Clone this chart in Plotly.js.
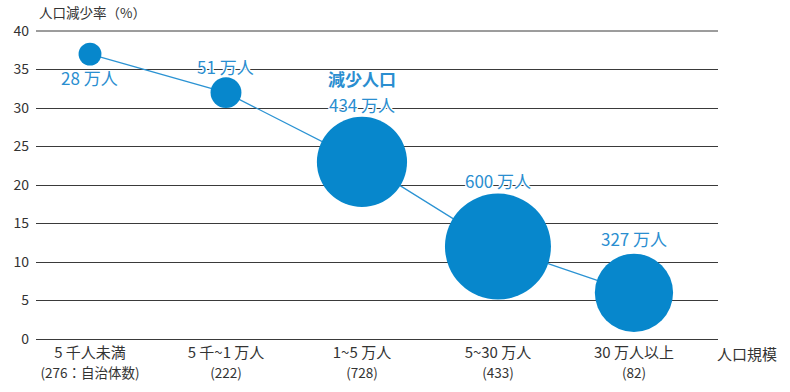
<!DOCTYPE html>
<html><head><meta charset="utf-8">
<script src="https://cdn.plot.ly/plotly-3.0.1.min.js"></script>
<style>html,body{margin:0;padding:0;background:#fff;}#chart{width:790px;height:392px;}</style>
</head><body><div id="chart"></div>
<script>
const categories = ["5 千人未満", "5 千~1 万人", "1~5 万人", "5~30 万人", "30 万人以上"];
const muniCounts = ["276：自治体数", "222", "728", "433", "82"];
const declineRate = [37, 32, 23, 12, 6];          // 人口減少率 (%)
const declinePop = [28, 51, 434, 600, 327];        // 減少人口 (万人)
const yTicks = [0, 5, 10, 15, 20, 25, 30, 35, 40];

const idx = categories.map((_, i) => i);
const tickText = categories.map((c, i) => c + "<br><span style='font-size:13.5px'>(" + muniCounts[i] + ")</span>");

const maxDiam = 106;
const sizeref = 4 * 600 / (2 * maxDiam * maxDiam);
const diam = declinePop.map(v => maxDiam * Math.sqrt(v / 600));

const blue = "#0787cc";
const labelBlue = "#2a8ed0";
const gridColor = "#3a3a3a";
const halo = "1px 0 0 #fff, -1px 0 0 #fff, 0 1px 0 #fff, 0 -1px 0 #fff, 1px 1px 0 #fff, -1px -1px 0 #fff, 1px -1px 0 #fff, -1px 1px 0 #fff";
const labelFont = {family: "Noto Sans CJK JP, sans-serif", size: 17, color: labelBlue, shadow: halo};

const trace = {
  x: idx, y: declineRate, type: "scatter", mode: "lines+markers",
  line: {color: "#2b93d3", width: 1.3},
  marker: {size: declinePop, sizemode: "area", sizeref: sizeref, color: blue, opacity: 1, line: {width: 0}},
  hoverinfo: "skip", cliponaxis: false
};

const gaps = [-38, -4, -2, -1, 1];
const annotations = idx.map(i => {
  const below = gaps[i] < -20;
  return {
    x: i, y: declineRate[i], xref: "x", yref: "y", text: declinePop[i] + " 万人", showarrow: false,
    xanchor: "center", yanchor: "bottom",
    yshift: below ? gaps[i] : diam[i] / 2 + gaps[i],
    font: labelFont, align: "center"
  };
});
// heading over the middle bubble
annotations.push({
  x: 2, y: declineRate[2], xref: "x", yref: "y", text: "<b>減少人口</b>", showarrow: false,
  xanchor: "center", yanchor: "bottom", yshift: diam[2] / 2 + gaps[2] + 26,
  font: labelFont
});
annotations.push({
  xref: "paper", yref: "paper", x: 0.002, y: 1, yshift: 6, xanchor: "left", yanchor: "bottom",
  text: "人口減少率（%）", showarrow: false,
  font: {family: "Noto Sans CJK JP, sans-serif", size: 13.5, color: "#333"}
});
annotations.push({
  xref: "paper", yref: "paper", x: 1, xshift: -3, y: 0, yshift: -1, xanchor: "left", yanchor: "top",
  text: "人口規模", showarrow: false,
  font: {family: "Noto Sans CJK JP, sans-serif", size: 15, color: "#333"}
});

const topTick = yTicks[yTicks.length - 1];
const layout = {
  width: 790, height: 392,
  margin: {l: 36, r: 72, t: 30, b: 52},
  paper_bgcolor: "#fff", plot_bgcolor: "#fff",
  showlegend: false,
  font: {family: "Noto Sans CJK JP, sans-serif", color: "#333", size: 13},
  xaxis: {
    range: [-0.397, 4.618], tickmode: "array", tickvals: idx, ticktext: tickText,
    showgrid: false, zeroline: false, showline: false, ticks: "", ticklabelstandoff: 2,
    tickfont: {size: 15, color: "#333"}, fixedrange: true
  },
  yaxis: {
    range: [-0.13, 40.13], tickmode: "array", tickvals: yTicks, ticktext: yTicks.map(String),
    showgrid: true, gridcolor: gridColor, gridwidth: 1,
    zeroline: true, zerolinecolor: gridColor, zerolinewidth: 1, showline: false,
    ticks: "", ticklabelstandoff: 6, tickfont: {size: 14, color: "#333"}, fixedrange: true
  },
  shapes: [{
    type: "line", layer: "below", xref: "paper", x0: 0, x1: 1, yref: "y", y0: topTick, y1: topTick,
    line: {color: gridColor, width: 1}
  }],
  annotations: annotations
};

Plotly.newPlot("chart", [trace], layout, {staticPlot: true, displayModeBar: false});
</script></body></html>
